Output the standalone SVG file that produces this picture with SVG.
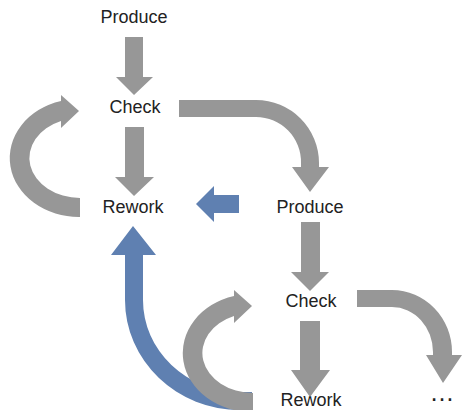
<svg xmlns="http://www.w3.org/2000/svg" width="463" height="410" viewBox="0 0 463 410">
  <style>
    .lbl { font-family: "Liberation Sans", Arial, Helvetica, sans-serif; font-size: 18px; fill: #222; text-anchor: middle; }
    .gray { fill: #979797; }
    .blue { fill: #5f80b1; }
  </style>

  <!-- nodes -->
  <g id="produce1"><text class="lbl" x="134" y="23">Produce</text></g>
  <g id="check1"><text class="lbl" x="135" y="113">Check</text></g>
  <g id="rework1"><text class="lbl" x="133" y="213">Rework</text></g>
  <g id="produce2"><text class="lbl" x="310" y="213">Produce</text></g>
  <g id="check2"><text class="lbl" x="311" y="307">Check</text></g>
  <g id="rework2"><text class="lbl" x="311" y="406">Rework</text></g>
  <g id="more"><text class="lbl" x="442" y="401" style="font-size:25px">…</text></g>

  <!-- connectors -->
  <g id="connectors">
    <!-- rework 2 back to rework 1 (blue, long curve) -->
    <path class="blue" d="M252,410 L240,410 A115,110 0 0 1 125,300 L125,255 L111,255 L133,226 L156,255 L143,255 L143,300 A97,92 0 0 0 240,392 L252,392 Z"/>

    <!-- produce 1 -> check 1 -->
    <path class="gray" d="M125,37 L143,37 L143,77 L153,77 L134,95 L116,77 L125,77 Z"/>
    <!-- check 1 -> rework 1 -->
    <path class="gray" d="M125,127 L144,127 L144,177 L154,177 L134,196 L115,177 L125,177 Z"/>
    <!-- rework 1 loop back to check 1 -->
    <path class="gray" d="M80,217 A69,59 0 0 1 61,101 L61,95 L79,111 L61,128 L61,121 A51,40 0 0 0 80,198 Z"/>
    <!-- check 1 -> produce 2 -->
    <path class="gray" d="M179,100 L256,100 A63,63 0 0 1 319,163 L319,167 L329,167 L310,192 L292,167 L301,167 L301,163 A45,45 0 0 0 256,117 L179,117 Z"/>
    <!-- produce 2 -> rework 1 (blue) -->
    <path class="blue" d="M239,195 L239,213 L214,213 L214,222 L196,204 L214,186 L214,195 Z"/>
    <!-- produce 2 -> check 2 -->
    <path class="gray" d="M301,222 L320,222 L320,272 L329,272 L310,291 L291,272 L301,272 Z"/>
    <!-- check 2 -> rework 2 -->
    <path class="gray" d="M300,321 L320,321 L320,370 L330,370 L310,397 L291,370 L300,370 Z"/>
    <!-- rework 2 loop back to check 2 -->
    <path class="gray" d="M253,412 A69,59 0 0 1 234,296 L234,290 L252,306 L234,323 L234,316 A51,40 0 0 0 253,393 Z"/>
    <!-- check 2 -> next -->
    <path class="gray" d="M357,290 L392,290 A60,62 0 0 1 452,352 L452,355 L462,355 L443,383 L426,355 L433,355 L433,352 A41,45 0 0 0 392,307 L357,307 Z"/>
  </g>
</svg>
